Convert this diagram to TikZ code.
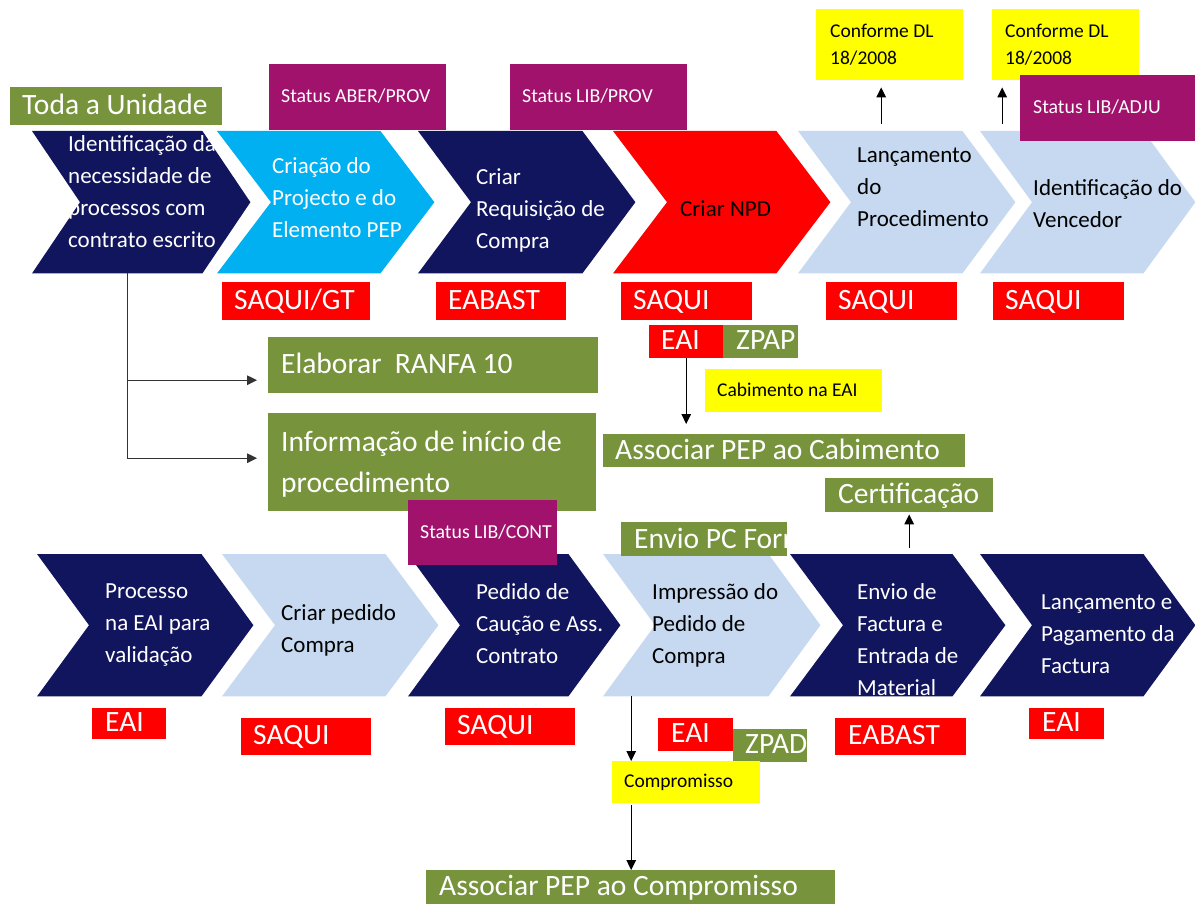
\documentclass[tikz,border=0pt]{standalone}
\usepackage{fontspec}
\setmainfont{Carlito}
\usetikzlibrary{arrows.meta}

\definecolor{navy}{RGB}{17,21,94}
\definecolor{skyc}{RGB}{0,176,240}
\definecolor{paleb}{RGB}{198,217,240}
\definecolor{oliveg}{RGB}{119,147,60}
\definecolor{plum2}{RGB}{160,18,108}
\definecolor{redc}{RGB}{255,0,0}
\definecolor{yelc}{RGB}{255,255,0}

% chevron step: name, left x, top y, total width, point depth, fill
\newcommand\chevronnode[6]{%
  \node[chevbox, minimum width=#4, anchor=north west] (#1) at (#2,#3) {};
  \fill[#6] (#1.north west) -- ([xshift=-#5]#1.north east) -- (#1.east)
    -- ([xshift=-#5]#1.south east) -- (#1.south west) -- ([xshift=#5]#1.west) -- cycle;}

% filled tag: name, x1, y1, x2, y2, fill, text style, left padding, text
\newcommand\tagbox[9]{%
  \node[tagbg, fill=#6, minimum width={#4-#2}, minimum height={#5-#3}, anchor=north west] (#1) at (#2,#3) {};
  \node[#7, anchor=west] (#1-t) at ([xshift=#8]#1.west) {#9};}

\begin{document}
\begin{tikzpicture}[x=1pt,y=-1pt,
  chevbox/.style={inner sep=0, minimum height=142},
  tagbg/.style={inner sep=0, draw=none},
  ctext/.style={font=\fontsize{23}{32}\selectfont, text=#1, align=left, inner sep=0,
    anchor=west, execute at begin node=\strut},
  multi/.style={yshift=-#1},
  bigw/.style={font=\fontsize{29.5}{41}\selectfont, text=white, align=left, inner sep=0,
    execute at begin node=\strut},
  smallw/.style={font=\fontsize{19.8}{27}\selectfont, text=white, align=left, inner sep=0,
    execute at begin node=\strut},
  smallk/.style={font=\fontsize{19.5}{27}\selectfont, text=black, align=left, inner sep=0,
    execute at begin node=\strut},
  arr/.style={-{Triangle[length=10pt,width=9.5pt]}, line width=1.4pt, draw=black},
  branch/.style={-{Triangle[length=10pt,width=9.5pt]}, line width=1.4pt, draw=black!80}]

\useasboundingbox (0,0) rectangle (1195,904);
\clip (0,0) rectangle (1195,904);

% ---------- upper process row ----------
\chevronnode{t1}{32}{131}{218}{48}{navy}
\node[ctext=white, multi=5pt] (t1-t) at (68,191.75) {Identificação da\\\strut necessidade de\\\strut processos com\\\strut contrato escrito};
\chevronnode{t2}{217}{131}{217}{54}{skyc}
\node[ctext=white, multi=5pt] (t2-t) at (272,197) {Criação do\\\strut Projecto e do\\\strut Elemento PEP};
\chevronnode{t3}{418}{131}{217}{53}{navy}
\node[ctext=white, multi=5pt] (t3-t) at (476,208) {Criar\\\strut Requisição de\\\strut Compra};
\chevronnode{t4}{613}{131}{217}{54}{redc}
\node[ctext=black] (t4-t) at (680,210) {Criar NPD};
\chevronnode{t5}{798}{131}{217}{53}{paleb}
\node[ctext=black, multi=5pt] (t5-t) at (857,187) {Lançamento\\\strut do\\\strut Procedimento};
\chevronnode{t6}{980}{131}{215}{52}{paleb}
\node[ctext=black, multi=5pt] (t6-t) at (1033,203) {Identificação do\\\strut Vencedor};

% tags above the upper row
\tagbox{toda}{10}{87}{222}{125}{oliveg}{bigw}{12}{Toda a Unidade}
\tagbox{st1}{269}{64}{446}{130}{plum2}{smallw}{12}{Status ABER/PROV}
\tagbox{st2}{510}{64}{687}{130}{plum2}{smallw}{12}{Status LIB/PROV}
\tagbox{conf1}{816}{9}{963}{80}{yelc}{smallk,multi=4pt}{14}{Conforme DL\\\strut 18/2008}
\tagbox{conf2}{992}{9}{1139}{80}{yelc}{smallk,multi=4pt}{13}{Conforme DL\\\strut 18/2008}
\tagbox{st3}{1020}{75}{1195}{141}{plum2}{smallw}{13}{Status LIB/ADJU}

% responsible units, upper row
\tagbox{r1}{222}{282}{370}{320}{redc}{bigw}{12}{SAQUI/GT}
\tagbox{r2}{436}{282}{566}{320}{redc}{bigw}{12}{EABAST}
\tagbox{r3}{621}{282}{752}{320}{redc}{bigw}{12}{SAQUI}
\tagbox{r4}{826}{282}{957}{320}{redc}{bigw}{12}{SAQUI}
\tagbox{r5}{993}{282}{1124}{320}{redc}{bigw}{12}{SAQUI}
\tagbox{eai1}{649}{325}{723}{358}{redc}{bigw}{12}{EAI}
\tagbox{zpap}{723}{325}{798}{358}{oliveg}{bigw}{13}{ZPAP}
\tagbox{cab}{705}{369}{882}{412}{yelc}{smallk}{12}{Cabimento na EAI}

% side tasks
\tagbox{elab}{268}{337}{598}{393}{oliveg}{bigw}{13}{Elaborar\ \ RANFA 10}
\tagbox{info}{268}{413}{596}{511}{oliveg}{bigw,multi=6pt}{13}{Informação de início de\\\strut procedimento}
\tagbox{assoc1}{603}{434}{965}{467}{oliveg}{bigw,multi=1pt}{12}{Associar PEP ao Cabimento}
\tagbox{cert}{825}{478}{993}{512}{oliveg}{bigw}{13}{Certificação}

% ---------- lower process row ----------
\chevronnode{b1}{37}{554}{216}{52}{navy}
\node[ctext=white, multi=5pt] (b1-t) at (105,623) {Processo\\\strut na EAI para\\\strut validação};
\chevronnode{b2}{222}{554}{216}{53}{paleb}
\node[ctext=black, multi=5pt] (b2-t) at (281,628.5) {Criar pedido\\\strut Compra};
\chevronnode{b3}{408}{554}{212}{52}{navy}
\node[ctext=white, multi=5pt] (b3-t) at (476,623) {Pedido de\\\strut Caução e Ass.\\\strut Contrato};
\chevronnode{b4}{603}{554}{217}{52}{paleb}
\node[ctext=black, multi=5pt] (b4-t) at (652,623) {Impressão do\\\strut Pedido de\\\strut Compra};
\chevronnode{b5}{790}{554}{215}{53}{navy}
\node[ctext=white, multi=5pt] (b5-t) at (857,639) {Envio de\\\strut Factura e\\\strut Entrada de\\\strut Material};
\chevronnode{b6}{980}{554}{215}{52}{navy}
\node[ctext=white, multi=5pt] (b6-t) at (1041,634) {Lançamento e\\\strut Pagamento da\\\strut Factura};

\tagbox{st4}{408}{500}{557}{565}{plum2}{smallw}{12}{Status LIB/CONT}

% tag whose text runs past its edge
\node[tagbg, fill=oliveg, minimum width=166, minimum height=34, anchor=north west] (envio) at (621,522) {};
\begin{scope}
  \clip (envio.south west) rectangle (envio.north east);
  \node[bigw, anchor=west] (envio-t) at ([xshift=13pt,yshift=-1pt]envio.west) {Envio PC Forn};
\end{scope}

% responsible units, lower row
\tagbox{e2}{92}{708}{166}{739}{redc}{bigw}{13}{EAI}
\tagbox{s6}{241}{718}{371}{755}{redc}{bigw}{12}{SAQUI}
\tagbox{s7}{445}{708}{575}{745}{redc}{bigw}{12}{SAQUI}
\tagbox{e3}{658}{718}{733}{751}{redc}{bigw}{13}{EAI}
\tagbox{zpad}{733}{729}{807}{762}{oliveg}{bigw}{12}{ZPAD}
\tagbox{eab2}{835}{718}{966}{755}{redc}{bigw}{13}{EABAST}
\tagbox{e4}{1029}{708}{1104}{739}{redc}{bigw}{13}{EAI}
\tagbox{comp}{612}{761}{760}{803}{yelc}{smallk}{12}{Compromisso}
\tagbox{assoc2}{426}{870}{835}{904}{oliveg}{bigw}{13}{Associar PEP ao Compromisso}

% ---------- connectors ----------
\draw[branch, shorten >=11pt] ([xshift=-14pt]t1.south) |- ([yshift=-15pt]elab.west);
\draw[branch, shorten >=11pt] ([xshift=-14pt]t1.south) |- ([yshift=4pt]info.west);
\draw[arr, shorten >=10pt] (eai1.south) -- (assoc1.north -| eai1.south);
\draw[arr] ([xshift=-25.5pt,yshift=7pt]t5.north) -- ([xshift=-8.5pt,yshift=-7pt]conf1.south);
\draw[arr] ([xshift=-85.5pt,yshift=7pt]t6.north) -- ([xshift=-63.5pt,yshift=-7pt]conf2.south);
\draw[arr] ([xshift=11.5pt,yshift=6pt]b5.north) -- ([yshift=-2pt]cert.south);
\draw[arr] ([xshift=-80.5pt]b4.south) -- ([xshift=-55pt]comp.north);
\draw[arr] ([xshift=-55pt,yshift=-2pt]comp.south) -- ([xshift=-55pt]comp.south |- assoc2.north);

\end{tikzpicture}
\end{document}
